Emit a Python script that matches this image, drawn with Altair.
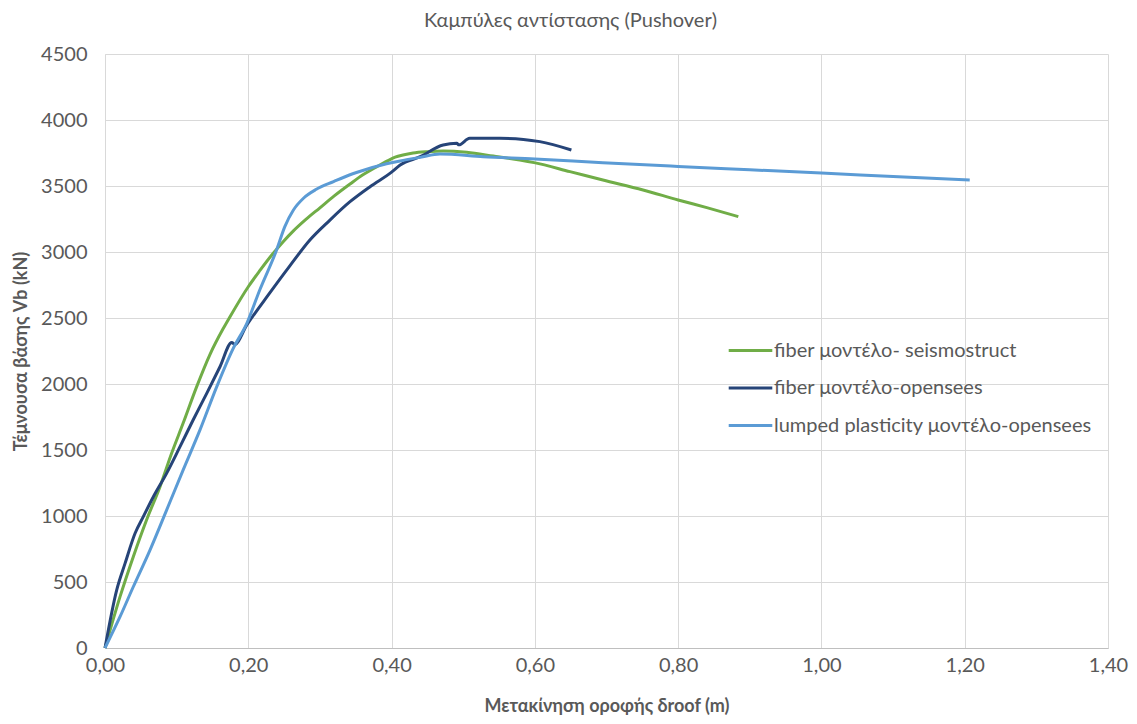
import altair as alt
import pandas as pd

S1 = "fiber μοντέλο- seismostruct"
S2 = "fiber μοντέλο-opensees"
S3 = "lumped plasticity μοντέλο-opensees"

green_d = [0, 0.021, 0.0395, 0.058, 0.0768, 0.093, 0.109, 0.128, 0.1466, 0.165, 0.1745, 0.2, 0.2163, 0.2325, 0.249, 0.263, 0.28, 0.30, 0.32, 0.342, 0.36, 0.379, 0.395, 0.405, 0.416, 0.43, 0.45, 0.472, 0.505, 0.542, 0.579, 0.599, 0.649, 0.695, 0.751, 0.80, 0.84, 0.884]
green_v = [0, 389, 692, 970, 1222, 1475, 1702, 1980, 2225, 2420, 2510, 2737, 2860, 2975, 3080, 3160, 3245, 3335, 3425, 3515, 3585, 3645, 3692, 3718, 3735, 3750, 3760, 3765, 3755, 3727, 3697, 3677, 3609, 3545, 3470, 3394, 3336, 3268]

navy_d = [0, 0.0163, 0.028, 0.042, 0.0535, 0.0675, 0.086, 0.1047, 0.123, 0.142, 0.1605, 0.177, 0.181, 0.198, 0.23, 0.258, 0.286, 0.314, 0.342, 0.37, 0.40, 0.412, 0.44, 0.472, 0.491, 0.494, 0.509, 0.551, 0.584, 0.607, 0.651]
navy_v = [0, 439, 641, 869, 995, 1146, 1323, 1525, 1727, 1929, 2131, 2315, 2300, 2447, 2690, 2895, 3091, 3242, 3381, 3495, 3605, 3659, 3722, 3811, 3823, 3812, 3861, 3861, 3853, 3836, 3773]

light_d = [0, 0.021, 0.0395, 0.0628, 0.086, 0.109, 0.1326, 0.156, 0.179, 0.198, 0.216, 0.2395, 0.251, 0.263, 0.277, 0.295, 0.319, 0.342, 0.351, 0.393, 0.412, 0.44, 0.4676, 0.528, 0.60, 0.695, 0.80, 0.90, 1.0, 1.1, 1.207]
light_v = [0, 237, 464, 742, 1045, 1348, 1652, 1980, 2270, 2460, 2712, 3015, 3192, 3318, 3407, 3475, 3533, 3585, 3602, 3668, 3690, 3717, 3742, 3722, 3705, 3676, 3648, 3623, 3598, 3572, 3545]

rows = []
for name, ds, vs in [(S1, green_d, green_v), (S2, navy_d, navy_v), (S3, light_d, light_v)]:
    for i, (d, v) in enumerate(zip(ds, vs)):
        rows.append({"series": name, "d": d, "V": v, "i": i})
df = pd.DataFrame(rows)

FONT = "Lato"
GREY = "#595959"

chart = alt.Chart(df).mark_line(strokeWidth=3, interpolate="monotone").encode(
    x=alt.X("d:Q", scale=alt.Scale(domain=[0, 1.4], nice=False, zero=True),
            axis=alt.Axis(title="Μετακίνηση οροφής δroof (m)", values=[0, 0.2, 0.4, 0.6, 0.8, 1.0, 1.2, 1.4],
                          labelExpr="replace(format(datum.value, '.2f'), '.', ',')",
                          labelFlush=False,
                          grid=True, gridColor="#D9D9D9", domainColor="#BFBFBF", ticks=False,
                          labelPadding=7, labelFontSize=20, labelColor=GREY, labelFont=FONT,
                          titleFont=FONT, titleFontSize=18, titleColor=GREY, titleFontWeight="bold",
                          titlePadding=22)),
    y=alt.Y("V:Q", scale=alt.Scale(domain=[0, 4500], nice=False),
            axis=alt.Axis(title="Τέμνουσα βάσης Vb (kN)", values=list(range(0, 4501, 500)), format="d",
                          grid=True, gridColor="#D9D9D9", domainColor="#D9D9D9", ticks=False,
                          labelPadding=18, labelFontSize=20, labelColor=GREY, labelFont=FONT,
                          titleFont=FONT, titleFontSize=18, titleColor=GREY, titleFontWeight="bold",
                          titlePadding=10)),
    color=alt.Color("series:N",
                    scale=alt.Scale(domain=[S1, S2, S3], range=["#70AD47", "#264478", "#5B9BD5"]),
                    legend=alt.Legend(title=None, orient="none", legendX=622, legendY=273,
                                      symbolType="stroke", symbolSize=1900, symbolStrokeWidth=3,
                                      labelFontSize=20, labelColor=GREY, labelFont=FONT,
                                      rowPadding=3.5, labelOffset=0, labelLimit=500)),
    order=alt.Order("i:Q"),
).properties(
    width=1003, height=594,
    title=alt.TitleParams("Καμπύλες αντίστασης (Pushover)", fontSize=20, font=FONT, color=GREY,
                          fontWeight="normal", anchor="middle", dx=-36, offset=13),
    autosize=alt.AutoSizeParams(type="none"),
    padding={"left": 97, "top": 46, "right": 21, "bottom": 68},
).configure_view(stroke=None)

chart.save("out.html", embed_options={"renderer": "svg", "actions": False})
